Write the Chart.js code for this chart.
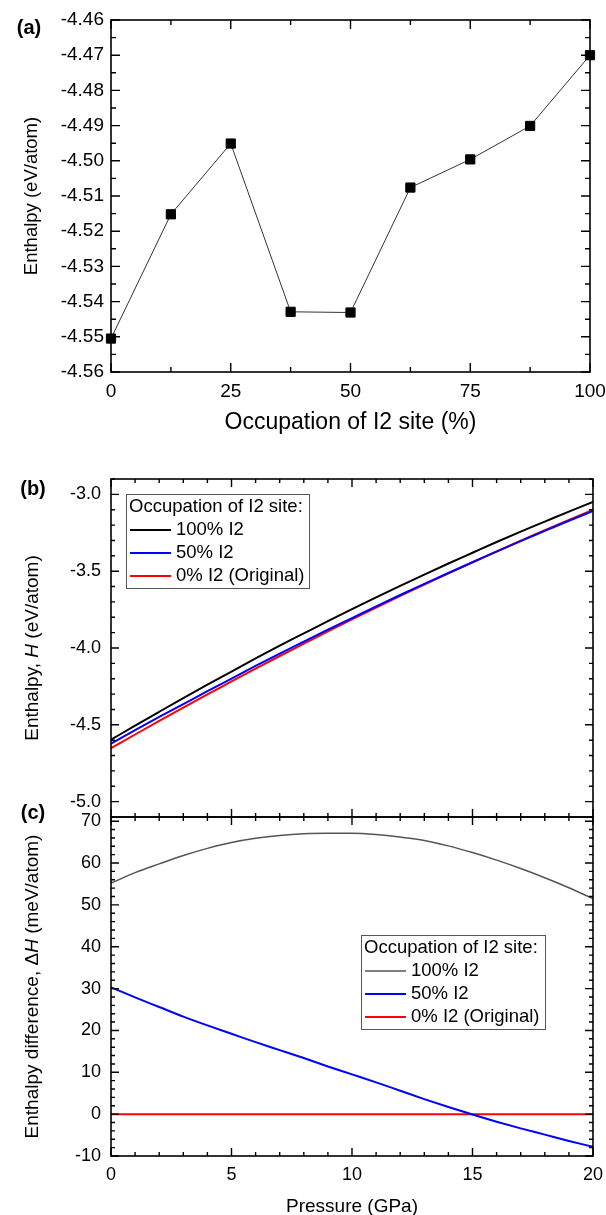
<!DOCTYPE html>
<html lang="en">
<head>
  <meta charset="UTF-8" />
  <title>Enthalpy vs. I2 occupation and pressure</title>
  <script src="https://cdn.jsdelivr.net/npm/chart.js@4.4.1/dist/chart.umd.min.js"></script>
  <style>
    html, body {margin: 0; padding: 0; background: #fff;}
    #wrap {position: relative; width: 606px; height: 1215px;}
    canvas {position: absolute; left: 0;}
    #chartA {top: 0;}
    #chartB {top: 440px;}
    #chartC {top: 800px;}
  </style>
</head>
<body>
  <div id="wrap">
    <canvas id="chartA" width="606" height="440"></canvas>
    <canvas id="chartB" width="606" height="380"></canvas>
    <canvas id="chartC" width="606" height="415"></canvas>
  </div>

  <script>
    // ---- data ----
    const occupation = [0, 12.5, 25, 37.5, 50, 62.5, 75, 87.5, 100];          // % of I2 site
    const enthalpyOcc = [-4.5505, -4.5152, -4.4951, -4.5429, -4.5431, -4.5076, -4.4996, -4.4901, -4.4700];

    const pressure = [0, 1, 2, 3, 4, 5, 6, 7, 8, 9, 10, 11, 12, 13, 14, 15, 16, 17, 18, 19, 20]; // GPa
    // enthalpy H (eV/atom)
    const hFull = [-4.597, -4.505, -4.415, -4.326, -4.239, -4.153, -4.068, -3.985, -3.905, -3.825, -3.747,
                   -3.670, -3.595, -3.522, -3.450, -3.380, -3.310, -3.242, -3.177, -3.112, -3.049];
    const hHalf = [-4.622, -4.535, -4.449, -4.365, -4.281, -4.199, -4.117, -4.037, -3.959, -3.881, -3.805,
                   -3.729, -3.655, -3.583, -3.512, -3.442, -3.373, -3.304, -3.238, -3.172, -3.108];
    const hOrig = [-4.652, -4.563, -4.475, -4.388, -4.302, -4.218, -4.134, -4.052, -3.972, -3.892, -3.814,
                   -3.737, -3.661, -3.587, -3.514, -3.442, -3.371, -3.301, -3.233, -3.166, -3.100];
    // enthalpy difference dH (meV/atom)
    const dhFull = [55.2, 57.7, 59.8, 61.8, 63.5, 64.9, 65.9, 66.6, 67.0, 67.1, 67.1,
                    66.8, 66.2, 65.4, 64.1, 62.5, 60.7, 58.7, 56.5, 54.1, 51.5];
    const dhHalf = [30.3, 27.9, 25.6, 23.3, 21.2, 19.2, 17.2, 15.3, 13.4, 11.4, 9.5,
                    7.6, 5.6, 3.6, 1.7, -0.1, -1.8, -3.4, -4.9, -6.4, -7.8];
    const dhOrig = [0, 0, 0, 0, 0, 0, 0, 0, 0, 0, 0, 0, 0, 0, 0, 0, 0, 0, 0, 0, 0];

    const seriesNames = ["100% I2", "50% I2", "0% I2 (Original)"];
    const legendTitle = "Occupation of I2 site:";

    // tick labels
    const occTicks = [0, 25, 50, 75, 100];
    const occYTicks = [-4.56, -4.55, -4.54, -4.53, -4.52, -4.51, -4.50, -4.49, -4.48, -4.47, -4.46];
    const pTicks = [0, 5, 10, 15, 20];
    const hTicks = [-5.0, -4.5, -4.0, -3.5, -3.0];
    const dhTicks = [-10, 0, 10, 20, 30, 40, 50, 60, 70];

    const FONT = "'Liberation Sans', Arial, sans-serif";
    Chart.defaults.font.family = FONT;
    Chart.defaults.color = "#000";

    const pairs = (xs, ys) => xs.map((x, i) => ({x: x, y: ys[i]}));

    function stepValues(min, max, step) {
      const out = [];
      const a = Math.ceil(min / step - 1e-6), b = Math.floor(max / step + 1e-6);
      for (let n = a; n <= b; n++) out.push(n * step);
      return out;
    }

    // box with inward ticks on all four sides
    const framePlugin = {
      id: "frame",
      afterDatasetsDraw(chart, args, o) {
        const {ctx, chartArea: a} = chart;
        const xs = chart.scales.x, ys = chart.scales.y;
        ctx.save();
        ctx.strokeStyle = "#000";
        ctx.lineWidth = 1.4;
        ctx.beginPath();
        const mark = (vals, len, horiz) => vals.forEach(v => {
          if (horiz) {
            const px = xs.getPixelForValue(v);
            ctx.moveTo(px, a.bottom); ctx.lineTo(px, a.bottom - len);
            ctx.moveTo(px, a.top); ctx.lineTo(px, a.top + len);
          } else {
            const py = ys.getPixelForValue(v);
            ctx.moveTo(a.left, py); ctx.lineTo(a.left + len, py);
            ctx.moveTo(a.right, py); ctx.lineTo(a.right - len, py);
          }
        });
        mark(stepValues(xs.min, xs.max, o.xMinor), o.minorLen, true);
        mark(o.xMajor, o.majorLen, true);
        mark(stepValues(ys.min, ys.max, o.yMinor), o.minorLen, false);
        mark(o.yMajor, o.majorLen, false);
        ctx.stroke();
        ctx.lineWidth = 1.6;
        ctx.strokeRect(a.left, a.top, a.width, a.height);
        ctx.restore();
      }
    };

    // panel letter, axis titles (y title may mix italic parts)
    const textPlugin = {
      id: "texts",
      afterDraw(chart, args, o) {
        const {ctx, chartArea: a} = chart;
        ctx.save();
        ctx.fillStyle = "#000";
        ctx.textBaseline = "middle";
        ctx.textAlign = "center";
        ctx.font = "bold 20px " + FONT;
        ctx.fillText(o.letter, o.letterX, o.letterY);
        if (o.xTitle) {
          ctx.font = o.xTitleSize + "px " + FONT;
          ctx.fillText(o.xTitle, (a.left + a.right) / 2, o.xTitleY);
        }
        ctx.translate(o.yTitleX, (a.top + a.bottom) / 2);
        ctx.rotate(-Math.PI / 2);
        const fontOf = p => (p[1] ? "italic " : "") + o.yTitleSize + "px " + FONT;
        let total = 0;
        o.yTitle.forEach(p => { ctx.font = fontOf(p); total += ctx.measureText(p[0]).width; });
        let x = -total / 2;
        ctx.textAlign = "left";
        o.yTitle.forEach(p => {
          ctx.font = fontOf(p);
          ctx.fillText(p[0], x, 0);
          x += ctx.measureText(p[0]).width;
        });
        ctx.restore();
      }
    };

    // framed legend with a title line
    const boxLegend = {
      id: "boxLegend",
      afterDraw(chart, args, o) {
        if (o.x === undefined) return;
        const ctx = chart.ctx;
        ctx.save();
        ctx.strokeStyle = "#555";
        ctx.lineWidth = 1;
        ctx.strokeRect(o.x + 0.5, o.y + 0.5, o.w, o.h);
        ctx.font = "18.5px " + FONT;
        ctx.fillStyle = "#000";
        ctx.textBaseline = "middle";
        ctx.textAlign = "left";
        ctx.fillText(o.title, o.x + 3, o.y + 13);
        chart.data.datasets.forEach((ds, i) => {
          const cy = o.y + 36 + i * 23;
          ctx.strokeStyle = ds.borderColor;
          ctx.lineWidth = ds.borderWidth;
          ctx.beginPath();
          ctx.moveTo(o.x + 4, cy);
          ctx.lineTo(o.x + 45, cy);
          ctx.stroke();
          ctx.fillText(ds.label, o.x + 50, cy);
        });
        ctx.restore();
      }
    };

    function axis(min, max, ticks, fmt, size, pad, fit) {
      return {
        type: "linear", min: min, max: max,
        afterBuildTicks: s => { s.ticks = ticks.map(v => ({value: v})); },
        afterFit: s => {
          fit(s);
          s.paddingTop = 0; s.paddingBottom = 0; s.paddingLeft = 0; s.paddingRight = 0;
        },
        grid: {display: false, drawTicks: false},
        border: {display: false},
        ticks: {font: {size: size}, color: "#000", padding: pad, maxRotation: 0, autoSkip: false,
                callback: v => fmt(v)}
      };
    }

    const common = {
      responsive: false,
      animation: false,
      devicePixelRatio: 1,
      events: []
    };

    // (a) enthalpy vs occupation
    new Chart(document.getElementById("chartA"), {
      type: "line",
      data: {
        datasets: [{
          label: "Enthalpy",
          data: pairs(occupation, enthalpyOcc),
          borderColor: "#333",
          borderWidth: 1,
          pointStyle: "rect",
          pointRadius: 6.5,
          pointBackgroundColor: "#000",
          pointBorderColor: "#000",
          pointBorderWidth: 1,
          clip: false
        }]
      },
      options: Object.assign({}, common, {
        layout: {padding: {left: 0, right: 16, top: 20, bottom: 0}},
        scales: {
          x: axis(0, 100, occTicks, v => String(v), 19, 8, s => { s.height = 68; }),
          y: axis(-4.56, -4.46, occYTicks, v => v.toFixed(2), 19, 7, s => { s.width = 111; })
        },
        plugins: {
          legend: {display: false}, tooltip: {enabled: false},
          frame: {xMajor: occTicks, xMinor: 12.5, yMajor: occYTicks, yMinor: 0.005, majorLen: 9, minorLen: 5},
          texts: {letter: "(a)", letterX: 29, letterY: 28,
                  xTitle: "Occupation of I2 site (%)", xTitleY: 423, xTitleSize: 23,
                  yTitle: [["Enthalpy (eV/atom)", false]], yTitleX: 32, yTitleSize: 18.5}
        }
      }),
      plugins: [framePlugin, textPlugin]
    });

    // (b) enthalpy vs pressure
    new Chart(document.getElementById("chartB"), {
      type: "line",
      data: {
        datasets: [
          {label: seriesNames[0], data: pairs(pressure, hFull), borderColor: "#000000", borderWidth: 2},
          {label: seriesNames[1], data: pairs(pressure, hHalf), borderColor: "#0000ff", borderWidth: 2},
          {label: seriesNames[2], data: pairs(pressure, hOrig), borderColor: "#ff0000", borderWidth: 2}
        ]
      },
      options: Object.assign({}, common, {
        elements: {point: {radius: 0}, line: {cubicInterpolationMode: "monotone"}},
        layout: {padding: {left: 0, right: 13, top: 39, bottom: 3}},
        scales: {
          x: {type: "linear", min: 0, max: 20, display: false},
          y: axis(-5.1, -2.9, hTicks, v => v.toFixed(1), 18, 10, s => { s.width = 111; })
        },
        plugins: {
          legend: {display: false}, tooltip: {enabled: false},
          frame: {xMajor: pTicks, xMinor: 1, yMajor: hTicks, yMinor: 0.1, majorLen: 8, minorLen: 4},
          texts: {letter: "(b)", letterX: 33, letterY: 49,
                  yTitle: [["Enthalpy, ", false], ["H", true], [" (eV/atom)", false]], yTitleX: 33, yTitleSize: 19},
          boxLegend: {x: 126, y: 54, w: 183, h: 94, title: legendTitle}
        }
      }),
      plugins: [framePlugin, textPlugin, boxLegend]
    });

    // (c) enthalpy difference vs pressure
    new Chart(document.getElementById("chartC"), {
      type: "line",
      data: {
        datasets: [
          {label: seriesNames[0], data: pairs(pressure, dhFull), borderColor: "#555555", borderWidth: 1.5},
          {label: seriesNames[1], data: pairs(pressure, dhHalf), borderColor: "#0000ff", borderWidth: 2},
          {label: seriesNames[2], data: pairs(pressure, dhOrig), borderColor: "#ff0000", borderWidth: 2}
        ]
      },
      options: Object.assign({}, common, {
        elements: {point: {radius: 0}, line: {cubicInterpolationMode: "monotone"}},
        layout: {padding: {left: 0, right: 13, top: 17, bottom: 0}},
        scales: {
          x: axis(0, 20, pTicks, v => String(v), 18, 8, s => { s.height = 59; }),
          y: axis(-10, 71, dhTicks, v => String(v), 18, 10, s => { s.width = 111; })
        },
        plugins: {
          legend: {display: false}, tooltip: {enabled: false},
          frame: {xMajor: pTicks, xMinor: 1, yMajor: dhTicks, yMinor: 2, majorLen: 8, minorLen: 4},
          texts: {letter: "(c)", letterX: 33, letterY: 13,
                  xTitle: "Pressure (GPa)", xTitleY: 407, xTitleSize: 19,
                  yTitle: [["Enthalpy difference, \u0394", false], ["H", true], [" (meV/atom)", false]],
                  yTitleX: 33, yTitleSize: 19},
          boxLegend: {x: 361, y: 135, w: 184, h: 94, title: legendTitle}
        }
      }),
      plugins: [framePlugin, textPlugin, boxLegend]
    });
  </script>
</body>
</html>
